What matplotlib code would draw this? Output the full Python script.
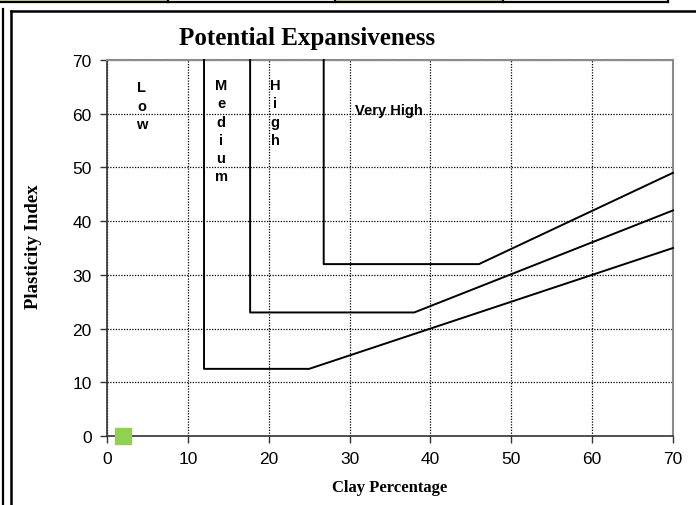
import matplotlib
matplotlib.use("Agg")
import matplotlib.pyplot as plt
from matplotlib.patches import Rectangle
from matplotlib.lines import Line2D

# Boundary lines (Clay %, Plasticity Index)
low_med_x = [12, 12, 25, 70]
low_med_y = [70, 12.5, 12.5, 35]
med_high_x = [17.7, 17.7, 38, 70]
med_high_y = [70, 23, 23, 42]
high_vh_x = [26.8, 26.8, 46, 70]
high_vh_y = [70, 32, 32, 49]

sample_x = [2]
sample_y = [0]

xticks = [0, 10, 20, 30, 40, 50, 60, 70]
yticks = [0, 10, 20, 30, 40, 50, 60, 70]

zone_labels = ["L\no\nw", "M\ne\nd\ni\nu\nm", "H\ni\ng\nh", "Very High"]
zone_x = [4.3, 14.1, 20.8, 30.7]
zone_y = [66.2, 66.6, 66.6, 60.7]

W, H = 696, 506
fig = plt.figure(figsize=(W / 100, H / 100), dpi=100)
fig.patch.set_facecolor("white")

# Decorations from surrounding document (table strip and frames)
def px_rect(x0, y0, x1, y1, **kw):
    return Rectangle((x0 / W, 1 - y1 / H), (x1 - x0) / W, (y1 - y0) / H,
                     transform=fig.transFigure, **kw)

fig.patches.append(px_rect(0, -2, 168, 2, facecolor="#c4d79b", edgecolor="none"))
fig.patches.append(px_rect(335, -2, 503, 2, facecolor="#c4d79b", edgecolor="none"))
for (xa, ya, xb, yb) in [(0, 2.5, 668, 2.5), (168, 0, 168, 2.5), (335, 0, 335, 2.5),
                         (503, 0, 503, 2.5), (668, 0, 668, 2.5)]:
    fig.add_artist(Line2D([xa / W, xb / W], [1 - ya / H, 1 - yb / H],
                          transform=fig.transFigure, color="black", lw=1.6))
# left double frame lines
fig.add_artist(Line2D([2.5 / W, 2.5 / W], [0, 1 - 10 / H], transform=fig.transFigure,
                      color="black", lw=1.6))
fig.add_artist(Line2D([11 / W, 11 / W], [0, 1 - 12 / H], transform=fig.transFigure,
                      color="black", lw=1.8))
fig.add_artist(Line2D([11 / W, 1], [1 - 12 / H, 1 - 12 / H], transform=fig.transFigure,
                      color="black", lw=1.8))

ax = fig.add_axes([107 / W, 1 - 437 / H, 566 / W, 376 / H])
ax.set_xlim(0, 70)
ax.set_ylim(0, 70)
ax.set_xticks(xticks)
ax.set_yticks(yticks)
ax.grid(True, color="black", linestyle=(0, (1, 1.2)), linewidth=0.9)
ax.set_axisbelow(True)

for s in ["top", "right"]:
    ax.spines[s].set_color("#8c8c8c")
    ax.spines[s].set_linewidth(1.5)
for s in ["left", "bottom"]:
    ax.spines[s].set_color("#333333")
    ax.spines[s].set_linewidth(1.2)

ax.tick_params(direction="out", length=5, width=1, color="#333333",
               labelsize=12.5)
ax.tick_params(axis="y", pad=6)
ax.tick_params(axis="x", pad=6)
for lab in ax.get_xticklabels() + ax.get_yticklabels():
    lab.set_fontfamily("Liberation Sans")

for xs, ys in [(low_med_x, low_med_y), (med_high_x, med_high_y), (high_vh_x, high_vh_y)]:
    ax.plot(xs, ys, color="black", lw=1.4, clip_on=False, zorder=3)

ax.scatter(sample_x, sample_y, marker="s", s=130, color="#92d050", zorder=5, clip_on=False)

for lab, x, y in zip(zone_labels, zone_x, zone_y):
    ax.text(x, y, lab, ha="center" if "\n" in lab else "left", va="top" if "\n" in lab else "center",
            fontsize=10.5, fontweight="bold", family="Liberation Sans",
            linespacing=1.38, zorder=4)

fig.text(307 / W, 1 - 38 / H, "Potential Expansiveness", ha="center", va="center",
         fontsize=18, fontweight="bold", family="Liberation Serif")
fig.text(390 / W, 1 - 488 / H, "Clay Percentage", ha="center", va="center",
         fontsize=12, fontweight="bold", family="Liberation Serif")
fig.text(33 / W, 1 - 247 / H, "Plasticity Index", ha="center", va="center",
         rotation=90, fontsize=13.5, fontweight="bold", family="Liberation Serif")

fig.savefig("out.png", dpi=100)
